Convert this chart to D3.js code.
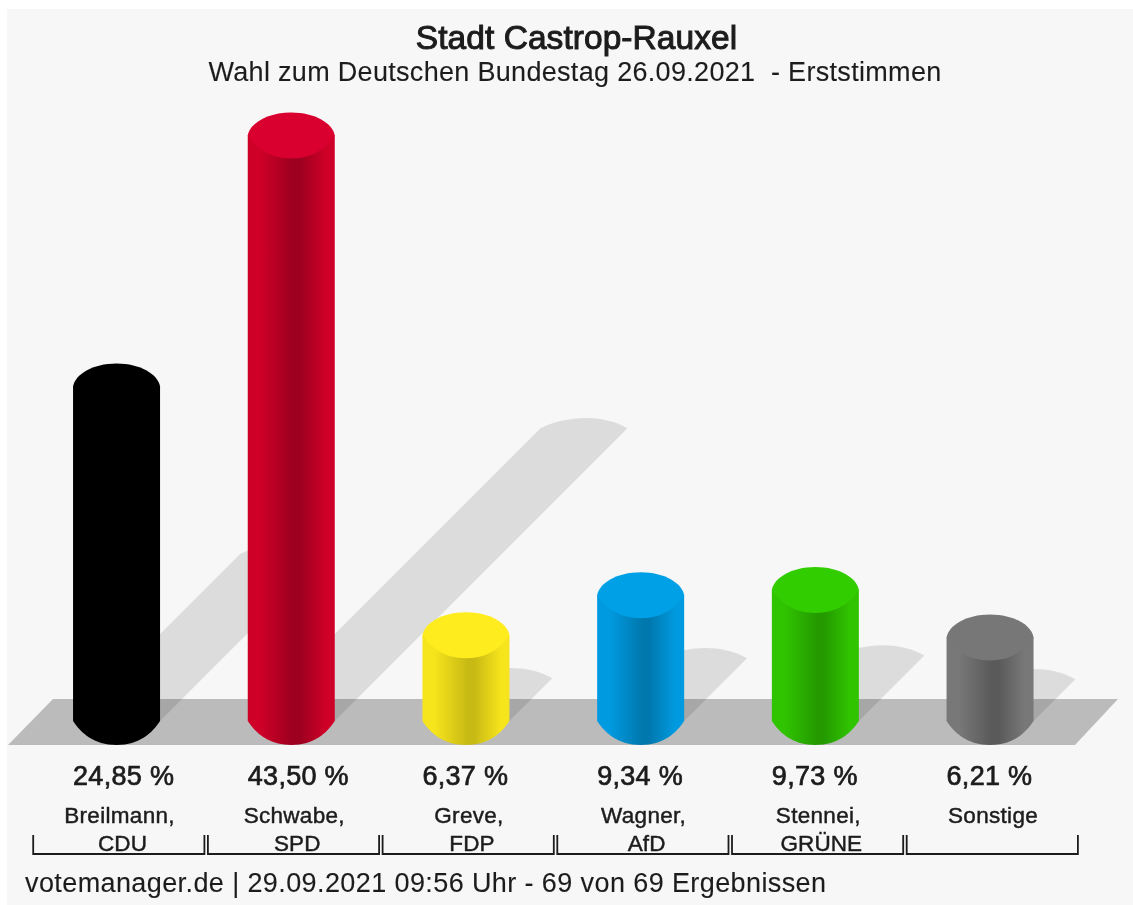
<!DOCTYPE html>
<html><head><meta charset="utf-8">
<script src="https://cdn.jsdelivr.net/npm/d3@7"></script>
<style>
html,body{margin:0;padding:0;background:#fff;overflow:hidden}
svg{display:block;filter:blur(0.6px)}
text{font-family:"Liberation Sans",Arial,sans-serif;fill:#1c1c1c;stroke:#1c1c1c;white-space:pre}
</style></head><body><div id="chart"></div>
<script>
const titleText = "Stadt Castrop-Rauxel";
const subtitleText = "Wahl zum Deutschen Bundestag 26.09.2021  - Erststimmen";
const footerText = "votemanager.de | 29.09.2021 09:56 Uhr - 69 von 69 Ergebnissen";
const candidates = ["Breilmann,", "Schwabe,", "Greve,", "Wagner,", "Stennei,", "Sonstige"];
const parties = ["CDU", "SPD", "FDP", "AfD", "GRÜNE", ""];
const values = [24.85, 43.50, 6.37, 9.34, 9.73, 6.21];
const valueLabels = ["24,85 %", "43,50 %", "6,37 %", "9,34 %", "9,73 %", "6,21 %"];
const capColors = ["#000000", "#d90030", "#ffec1e", "#00a0e6", "#32cd00", "#777777"];
const sideColors = ["#000000", "#cf0028", "#f6e41c", "#009ae0", "#30c400", "#787878"];
const coreColors = ["#000000", "#9c001e", "#c8ba14", "#0078ae", "#249a00", "#5a5a5a"];

const W = 1133, H = 905;
const svg = d3.select("#chart").append("svg").attr("width", W).attr("height", H);
const defs = svg.append("defs");
svg.append("rect").attr("x", 7).attr("y", 9).attr("width", W - 7).attr("height", H - 9).attr("fill", "#f7f7f7");

const idx = d3.range(values.length);
const x = d3.scaleBand().domain(idx).range([29.2, 1077.4]);
const y = d3.scaleLinear().domain([0, 43.5]).range([721, 135.5]);
const barW = 87, rx = barW / 2, ry = 23;
const cx = i => x(i) + x.bandwidth() / 2;
const baseY = y(0);

// floor
const floorTop = 699, floorBot = 745;
svg.append("path").attr("fill", "#bbbbbb")
  .attr("d", d3.line()([[8, floorBot], [53, floorTop], [1118, floorTop], [1075, floorBot]]) + "Z");

// shadows
const shadow = svg.append("g");
idx.forEach(i => {
  const off = (baseY - y(values[i])) * 0.5;
  const lx = cx(i) - rx, rxx = cx(i) + rx;
  const p = d3.path();
  p.moveTo(lx, baseY);
  p.lineTo(lx + off, baseY - off);
  p.bezierCurveTo(lx + off + 22, baseY - off - 11, rxx + off - 28, baseY - off - 16, rxx + off, baseY - off);
  p.lineTo(rxx, baseY);
  p.closePath();
  shadow.append("path").attr("d", p.toString()).attr("fill", "#000").attr("fill-opacity", 0.105);
});

// lower edge of a cap or of the foot
const lowerArc = (p, l, r, c, yy, drop) => {
  p.bezierCurveTo(l + 8, yy + drop * 0.5, c - 23, yy + drop, c, yy + drop);
  p.bezierCurveTo(c + 23, yy + drop, r - 8, yy + drop * 0.5, r, yy);
};

idx.forEach(i => {
  const g = defs.append("linearGradient").attr("id", "cyl" + i);
  [[0, sideColors[i]], [0.14, sideColors[i]], [0.52, coreColors[i]], [0.6, coreColors[i]], [0.9, sideColors[i]], [1, sideColors[i]]]
    .forEach(s => g.append("stop").attr("offset", s[0]).attr("stop-color", s[1]));
  const top = y(values[i]), c = cx(i), l = c - rx, r = c + rx;
  const body = d3.path();
  body.moveTo(l, top);
  body.lineTo(l, baseY);
  lowerArc(body, l, r, c, baseY, 24);
  body.lineTo(r, top);
  body.closePath();
  svg.append("path").attr("d", body.toString()).attr("fill", `url(#cyl${i})`);
  const cap = d3.path();
  cap.moveTo(l, top);
  cap.bezierCurveTo(l + 2, top - 12, c - 24, top - ry, c, top - ry);
  cap.bezierCurveTo(c + 24, top - ry, r - 2, top - 12, r, top);
  lowerCap(cap, l, r, c, top, ry);
  cap.closePath();
  svg.append("path").attr("d", cap.toString()).attr("fill", capColors[i]);
});

function lowerCap(p, l, r, c, yy, drop) {
  p.bezierCurveTo(r - 8, yy + drop * 0.5, c + 23, yy + drop, c, yy + drop);
  p.bezierCurveTo(c - 23, yy + drop, l + 8, yy + drop * 0.5, l, yy);
}

// labels
const label = (t, xx, yy, size, anchor, sw, ls) => svg.append("text").attr("x", xx).attr("y", yy)
  .attr("font-size", size).attr("text-anchor", anchor || "middle")
  .attr("stroke-width", sw || 0).attr("letter-spacing", ls || 0).text(t);

label(titleText, 576.5, 49, 33.5, "middle", 1.0, 0.05);
label(subtitleText, 575, 81, 27, "middle", 0.1, 0.31);
idx.forEach(i => {
  label(valueLabels[i], cx(i) - rx, 785, 27, "start", 0.7, 0.3);
  label(candidates[i], cx(i) + 3, 823, 22.5, "middle", 0.45, 0.3);
  label(parties[i], cx(i) + 6, 851, 22.5, "middle", 0.45, 0.1);
});
label(footerText, 25, 892, 27, "start", 0.1, 0.4);

// brackets
idx.forEach(i => {
  const a = x(i) + 4, b = x(i) + x.bandwidth() + 0.5;
  svg.append("path").attr("fill", "none").attr("stroke", "#1c1c1c").attr("stroke-width", 1.8)
    .attr("d", d3.line()([[a, 835], [a, 854], [b, 854], [b, 835]]));
});
</script></body></html>
